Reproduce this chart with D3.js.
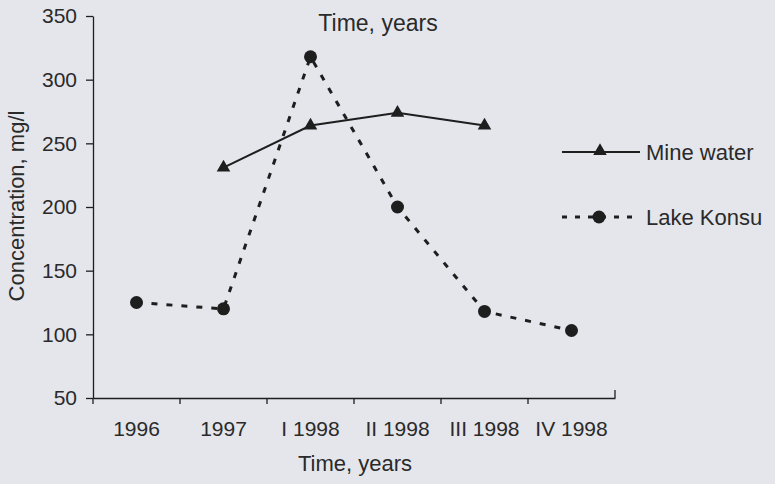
<!DOCTYPE html>
<html>
<head>
<meta charset="utf-8">
<script src="https://cdn.jsdelivr.net/npm/d3@7"></script>
<style>
  body { margin: 0; background: #e4e6ec; }
  svg { display: block; font-family: "Liberation Sans", Arial, sans-serif; }
</style>
</head>
<body>
<div id="chart"></div>
<script>
// Concentration in Mine water vs Lake Konsu, 1996 - IV 1998
const categories = ["1996", "1997", "I 1998", "II 1998", "III 1998", "IV 1998"];
const lakeKonsu = [125, 120, 318, 200, 118, 103];
const mineWater = [null, 231, 264, 274, 264, null];
const yTicks = [50, 100, 150, 200, 250, 300, 350];

const width = 775, height = 484;
const ink = "#1e1e1e";

const svg = d3.select("#chart")
    .append("svg")
    .attr("width", width)
    .attr("height", height);

svg.append("rect")
    .attr("width", width)
    .attr("height", height)
    .attr("fill", "#e4e6ec");

// Scales
const x = d3.scaleBand()
    .domain(categories)
    .range([93, 615])
    .padding(0);

const y = d3.scaleLinear()
    .domain([50, 350])
    .range([398, 16]);

const cx = c => x(c) + x.bandwidth() / 2;

// Y axis
const yAxis = svg.append("g")
    .attr("transform", `translate(${x.range()[0]},0)`)
    .call(d3.axisLeft(y).tickValues(yTicks).tickSize(7).tickPadding(9).tickSizeOuter(0));
yAxis.select(".domain").attr("stroke", ink).attr("stroke-width", 1.3);
yAxis.selectAll(".tick line").attr("stroke", ink).attr("stroke-width", 1.3);
yAxis.selectAll(".tick text")
    .attr("font-size", "21px")
    .attr("fill", "#2a2a2a")
    .attr("font-family", "Liberation Sans, Arial, sans-serif");

// X axis: labels centred in bands, ticks on band edges
const xAxis = svg.append("g")
    .attr("transform", `translate(0,${y(50)})`)
    .call(d3.axisBottom(x).tickSize(0).tickPadding(23).tickSizeOuter(0));
xAxis.select(".domain").attr("stroke", ink).attr("stroke-width", 1.3);
xAxis.selectAll(".tick text")
    .attr("font-size", "21px")
    .attr("fill", "#2a2a2a")
    .attr("font-family", "Liberation Sans, Arial, sans-serif");

xAxis.selectAll("line.edge")
    .data(categories)
    .enter()
    .append("line")
    .attr("class", "edge")
    .attr("x1", d => x(d))
    .attr("x2", d => x(d))
    .attr("y1", 0)
    .attr("y2", 6)
    .attr("stroke", ink)
    .attr("stroke-width", 1.3);

xAxis.append("line")
    .attr("x1", x.range()[1])
    .attr("x2", x.range()[1])
    .attr("y1", 0)
    .attr("y2", -8)
    .attr("stroke", ink)
    .attr("stroke-width", 1.3);

// Axis titles
svg.append("text")
    .attr("x", 378)
    .attr("y", 31)
    .attr("text-anchor", "middle")
    .attr("font-size", "23px")
    .attr("fill", "#2a2a2a")
    .text("Time, years");

svg.append("text")
    .attr("x", 355)
    .attr("y", 471)
    .attr("text-anchor", "middle")
    .attr("font-size", "22px")
    .attr("fill", "#2a2a2a")
    .text("Time, years");

svg.append("text")
    .attr("transform", "rotate(-90)")
    .attr("x", -206)
    .attr("y", 24)
    .attr("text-anchor", "middle")
    .attr("font-size", "22px")
    .attr("fill", "#2a2a2a")
    .text("Concentration, mg/l");

// Lake Konsu (dashed + dots)
const lakeData = categories.map((c, i) => ({ c, v: lakeKonsu[i] })).filter(d => d.v != null);
const mineData = categories.map((c, i) => ({ c, v: mineWater[i] })).filter(d => d.v != null);

const line = d3.line()
    .x(d => cx(d.c))
    .y(d => y(d.v));

svg.append("path")
    .datum(lakeData)
    .attr("fill", "none")
    .attr("stroke", ink)
    .attr("stroke-width", 3)
    .attr("stroke-dasharray", "6,9")
    .attr("d", line);

svg.selectAll("circle.lake")
    .data(lakeData)
    .enter()
    .append("circle")
    .attr("class", "lake")
    .attr("cx", d => cx(d.c))
    .attr("cy", d => y(d.v))
    .attr("r", 6.5)
    .attr("fill", ink);

// Mine water (solid + triangles)
svg.append("path")
    .datum(mineData)
    .attr("fill", "none")
    .attr("stroke", ink)
    .attr("stroke-width", 2)
    .attr("d", line);

const tri = d3.symbol().type(d3.symbolTriangle).size(80);

svg.selectAll("path.mine")
    .data(mineData)
    .enter()
    .append("path")
    .attr("class", "mine")
    .attr("transform", d => `translate(${cx(d.c)},${y(d.v)})`)
    .attr("d", tri)
    .attr("fill", ink);

// Legend
const legend = svg.append("g");
legend.append("line")
    .attr("x1", 562).attr("x2", 640)
    .attr("y1", 152).attr("y2", 152)
    .attr("stroke", ink).attr("stroke-width", 2);
legend.append("path")
    .attr("transform", "translate(600,151)")
    .attr("d", tri)
    .attr("fill", ink);
legend.append("text")
    .attr("x", 646).attr("y", 160)
    .attr("font-size", "22px")
    .attr("fill", "#2a2a2a")
    .text("Mine water");

legend.append("line")
    .attr("x1", 562).attr("x2", 640)
    .attr("y1", 217).attr("y2", 217)
    .attr("stroke", ink).attr("stroke-width", 3)
    .attr("stroke-dasharray", "5,8");
legend.append("circle")
    .attr("cx", 599).attr("cy", 217)
    .attr("r", 6.5)
    .attr("fill", ink);
legend.append("text")
    .attr("x", 646).attr("y", 225)
    .attr("font-size", "22px")
    .attr("fill", "#2a2a2a")
    .text("Lake Konsu");
</script>
</body>
</html>
